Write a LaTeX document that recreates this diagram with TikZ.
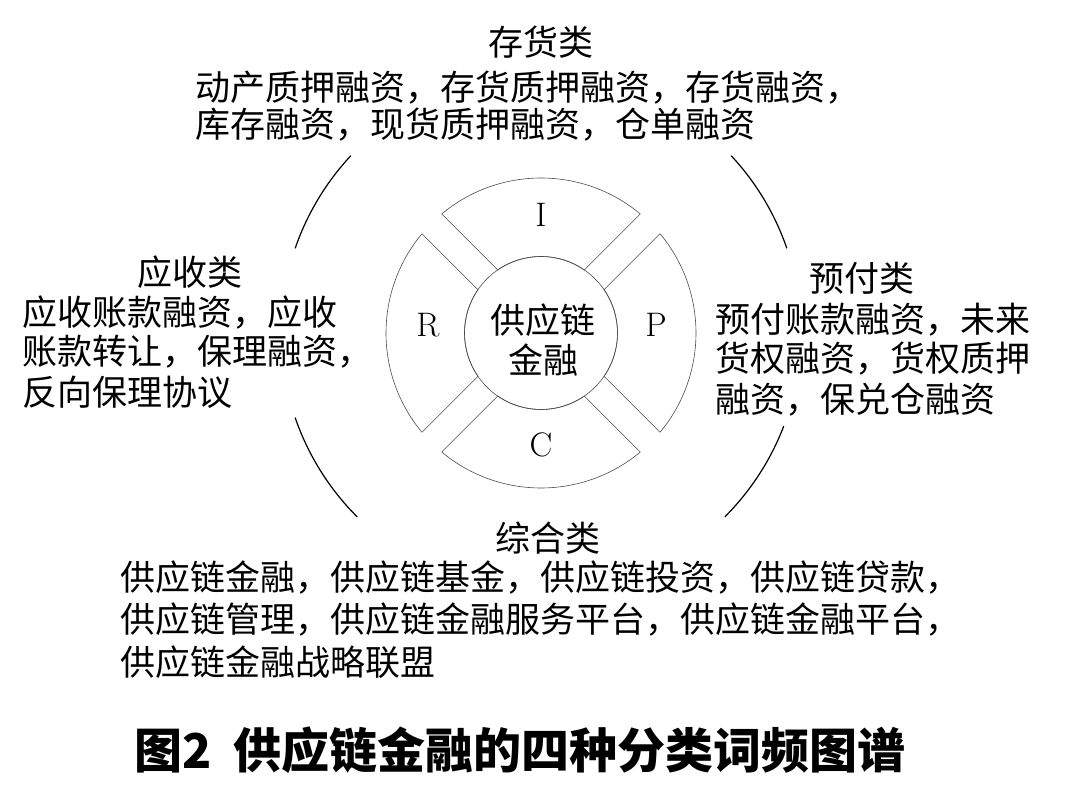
\documentclass[tikz,border=0pt]{standalone}
\usepackage{fontspec}
\usetikzlibrary{calc}
\newfontfamily\cjk{Noto Sans CJK SC}
\begin{document}
\begin{tikzpicture}[x=1pt,y=1pt,
  lab/.style={font=\cjk\fontsize{35}{40}\selectfont,inner sep=0pt},
  body/.style={font=\cjk\fontsize{35}{40}\selectfont,inner sep=0pt,anchor=west},
  letter/.style={font=\fontsize{34}{34}\selectfont,inner sep=0pt},
  ln/.style={line width=0.6pt,draw=black!70}]
\useasboundingbox (0,0) rectangle (1080,793);
\coordinate (O) at (541,460);
% sectors
\foreach \m/\n in {90/I,0/P,270/C,180/R}{
  \draw[ln] ($(O)+(\m-39.82:155)$) arc[start angle=\m-39.82,end angle=\m+39.82,radius=155]
     -- ($(O)+(\m+34.46:76.5)$) arc[start angle=\m+34.46,end angle=\m-34.46,radius=76.5] -- cycle;
}
\draw[ln] (O) circle[radius=76.5];
\node[letter] (I) at (541,578) {I};
\node[letter] (P) at (656,468) {P};
\node[letter] (C) at (541,348) {C};
\node[letter] (R) at (428,468) {R};
\node[lab,align=center] (ctr) at (543,453) {供应链\\金融};
% outer arcs
\foreach \a/\b in {137/161,19/43,199/225,315/339}
  \draw[line width=1.2pt] ($(O)+(\a:260)$) arc[start angle=\a,end angle=\b,radius=260];
% texts
\node[lab] (t1) at (541,751) {存货类};
\node[body] (t1a) at (195,705) {动产质押融资，存货质押融资，存货融资，};
\node[body] (t1b) at (195,668) {库存融资，现货质押融资，仓单融资};
\node[lab] (t2) at (190,521) {应收类};
\node[body] (t2a) at (22,480) {应收账款融资，应收};
\node[body] (t2b) at (22,441) {账款转让，保理融资，};
\node[body] (t2c) at (22,401) {反向保理协议};
\node[lab] (t3) at (862,515) {预付类};
\node[body] (t3a) at (715,473) {预付账款融资，未来};
\node[body] (t3b) at (715,434) {货权融资，货权质押};
\node[body] (t3c) at (715,393) {融资，保兑仓融资};
\node[lab] (t4) at (548,255) {综合类};
\node[body] (t4a) at (120,215) {供应链金融，供应链基金，供应链投资，供应链贷款，};
\node[body] (t4b) at (120,173) {供应链管理，供应链金融服务平台，供应链金融平台，};
\node[body] (t4c) at (120,131) {供应链金融战略联盟};
\node[font=\cjk\bfseries\fontsize{48}{48}\selectfont,inner sep=0pt] (title) at (520,43) {图2\ \ 供应链金融的四种分类词频图谱};
\end{tikzpicture}
\end{document}
